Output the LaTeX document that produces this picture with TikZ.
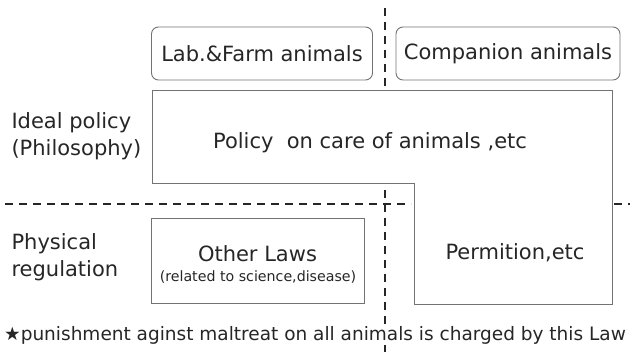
\documentclass[tikz,border=0pt]{standalone}
\usepackage{fontspec}
\setmainfont{DejaVu Sans}
\begin{document}
\begin{tikzpicture}[x=1pt,y=-1pt,
  boxline/.style={draw=black!55,line width=0.9pt},
  sep/.style={draw=black!85,line width=1.1pt,dash pattern=on 8pt off 6pt},
  big/.style={font=\fontsize{21}{24}\selectfont,text=black!85},
  lbl/.style={font=\fontsize{21}{27}\selectfont,text=black!85,align=left,anchor=west},
  small/.style={font=\fontsize{14.2}{16}\selectfont,text=black!85}]
\useasboundingbox (0,0) rectangle (630,355);
% separators
\draw[sep] (385,8) -- (385,355);
\draw[sep] (5,204) -- (411,204);
\draw[sep] (614,204) -- (630,204);
% top boxes
\node[boxline,rounded corners=7pt,minimum width=221pt,minimum height=53pt,big] (lab) at (262,53.5) {Lab.\&Farm animals};
\node[boxline,rounded corners=7pt,minimum width=224pt,minimum height=53pt,big] (comp) at (508,53.5) {Companion animals};
% L shaped policy region
\draw[boxline,fill=white] (152,90) -- (612,90) -- (612,304) -- (414,304) -- (414,183) -- (152,183) -- cycle;
\node[big] (policy) at (370,143) {Policy\ \ on care of animals ,etc};
\node[big] (perm) at (515,253) {Permition,etc};
% other laws box
\node[boxline,minimum width=213pt,minimum height=85pt] (other) at (257.5,260.5) {};
\node[big] (olt) at (257.5,254) {Other Laws};
\node[small] (ols) at (258,277) {(related to science,disease)};
% left labels
\node[lbl] (ideal) at (8,136) {Ideal policy\\(Philosophy)};
\node[lbl] (phys) at (8,257) {Physical\\regulation};
% footnote
\node[font=\fontsize{18.5}{20}\selectfont,text=black!85,fill=white,inner sep=1pt] (foot) at (315,335) {★punishment aginst maltreat on all animals is charged by this Law};
\end{tikzpicture}
\end{document}
